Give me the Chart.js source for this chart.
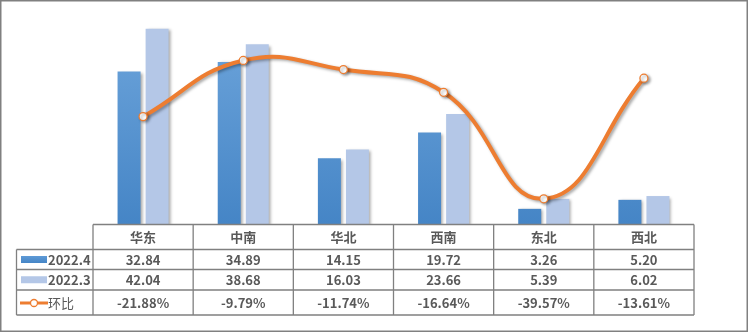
<!DOCTYPE html>
<html>
<head>
<meta charset="utf-8">
<script src="https://cdn.jsdelivr.net/npm/chart.js@4/dist/chart.umd.min.js"></script>
<style>
  html, body { margin: 0; padding: 0; background: #fff; }
  #wrap { width: 748px; height: 332px; }
</style>
</head>
<body>
<div id="wrap"><canvas id="chart"></canvas></div>
<script>
const regions = ["华东", "中南", "华北", "西南", "东北", "西北"]
const apr = [32.84, 34.89, 14.15, 19.72, 3.26, 5.20]
const mar = [42.04, 38.68, 16.03, 23.66, 5.39, 6.02]
const mom = [-21.88, -9.79, -11.74, -16.64, -39.57, -13.61]
const seriesNames = ["2022.4", "2022.3", "环比"]

const TEXT = "#595959"
const GRID = "#808080"
const ORANGE = "#ED7D31"
const LIGHT = "#B4C7E7"
const FONT = '"Noto Sans CJK SC", "Open Sans", sans-serif'

function blueGradient(context) {
  const { chart } = context
  const area = chart.chartArea
  if (!area) return "#5B9BD5"
  const g = chart.ctx.createLinearGradient(0, area.top, 0, area.bottom)
  g.addColorStop(0, "#6FA6DC")
  g.addColorStop(1, "#4585C6")
  return g
}

// soft drop shadow under bars and the line
const shadows = {
  id: "shadows",
  beforeDatasetDraw(chart) {
    const ctx = chart.ctx
    ctx.save()
    ctx.shadowColor = "rgba(0, 0, 0, 0.35)"
    ctx.shadowBlur = 3
    ctx.shadowOffsetX = 2
    ctx.shadowOffsetY = 1.5
  },
  afterDatasetDraw(chart) {
    chart.ctx.restore()
  }
}

// data table under the plot, columns follow the x scale
const dataTable = {
  id: "dataTable",
  afterDraw(chart) {
    const ctx = chart.ctx
    const x = chart.scales.x
    const area = chart.chartArea
    const colW = (area.right - area.left) / regions.length
    const left = area.left
    const right = area.right
    const legendLeft = 16.5
    const rows = [area.bottom + 0.5, 249.5, 269.5, 290, 315]

    ctx.save()
    ctx.strokeStyle = GRID
    ctx.lineWidth = 1.3

    // horizontal rules
    ctx.beginPath()
    ctx.moveTo(left, rows[0]); ctx.lineTo(right, rows[0])
    for (let i = 1; i < rows.length; i++) {
      ctx.moveTo(legendLeft, rows[i]); ctx.lineTo(right, rows[i])
    }
    // vertical rules
    for (let i = 0; i <= regions.length; i++) {
      const cx = left + i * colW
      ctx.moveTo(cx, rows[0]); ctx.lineTo(cx, rows[4])
    }
    ctx.moveTo(legendLeft, rows[1]); ctx.lineTo(legendLeft, rows[4])
    ctx.stroke()

    ctx.fillStyle = TEXT
    ctx.textAlign = "center"
    ctx.textBaseline = "middle"
    const mid = r => (rows[r] + rows[r + 1]) / 2 + 0.5

    regions.forEach((name, i) => {
      const cx = x.getPixelForValue(i)
      ctx.font = "bold 13px " + FONT
      ctx.fillText(name, cx, mid(0))
      ctx.fillText(apr[i].toFixed(2), cx, mid(1))
      ctx.fillText(mar[i].toFixed(2), cx, mid(2))
      ctx.fillText(mom[i].toFixed(2) + "%", cx, mid(3))
    })

    // legend keys
    const g = ctx.createLinearGradient(0, 256, 0, 263)
    g.addColorStop(0, "#5E9AD6"); g.addColorStop(1, "#4585C6")
    ctx.fillStyle = g
    ctx.fillRect(21, mid(1) - 4, 26, 7)
    ctx.fillStyle = LIGHT
    ctx.fillRect(21, mid(2) - 4, 26, 7)

    ctx.strokeStyle = ORANGE
    ctx.lineWidth = 3
    ctx.beginPath()
    ctx.moveTo(20, mid(3)); ctx.lineTo(48, mid(3))
    ctx.stroke()
    ctx.beginPath()
    ctx.arc(34, mid(3), 3.5, 0, Math.PI * 2)
    ctx.fillStyle = "#fff"
    ctx.fill()
    ctx.lineWidth = 1.3
    ctx.stroke()

    ctx.fillStyle = TEXT
    ctx.textAlign = "left"
    ctx.font = "bold 13px " + FONT
    ctx.fillText(seriesNames[0], 48, mid(1))
    ctx.fillText(seriesNames[1], 48, mid(2))
    ctx.font = "13px " + FONT
    ctx.fillText(seriesNames[2], 48, mid(3))

    // outer frame
    ctx.strokeStyle = GRID
    ctx.lineWidth = 1.5
    ctx.strokeRect(0.75, 0.75, 746.5, 330.5)
    ctx.restore()
  }
}

new Chart(document.getElementById("chart"), {
  type: "bar",
  data: {
    labels: regions,
    datasets: [
      {
        type: "line",
        label: seriesNames[2],
        data: mom,
        yAxisID: "y2",
        order: 0,
        borderColor: ORANGE,
        borderWidth: 4,
        tension: 0.45,
        pointRadius: 4,
        pointBackgroundColor: "#fff",
        pointBorderColor: ORANGE,
        pointBorderWidth: 1.3
      },
      {
        label: seriesNames[0],
        data: apr,
        order: 1,
        backgroundColor: blueGradient,
        categoryPercentage: 0.56,
        barPercentage: 0.82
      },
      {
        label: seriesNames[1],
        data: mar,
        order: 1,
        backgroundColor: LIGHT,
        categoryPercentage: 0.56,
        barPercentage: 0.82
      }
    ]
  },
  options: {
    responsive: true,
    maintainAspectRatio: false,
    animation: false,
    layout: {
      padding: { left: 93, right: 54, top: 15, bottom: 108 }
    },
    plugins: {
      legend: { display: false },
      tooltip: { enabled: false }
    },
    scales: {
      x: { display: false },
      y: { display: false, min: 0, max: 45 },
      y2: { display: false, min: -45, max: 0, position: "right" }
    }
  },
  plugins: [shadows, dataTable]
})
</script>
</body>
</html>
